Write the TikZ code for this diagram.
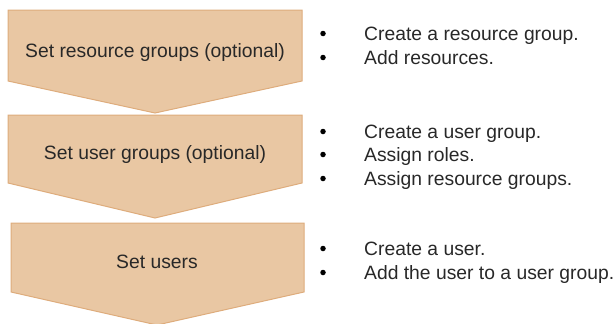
\documentclass[tikz,border=0pt]{standalone}
\usepackage{fontspec}
\setmainfont{Liberation Sans}
\definecolor{chevfill}{RGB}{233,199,163}
\definecolor{chevline}{RGB}{222,172,124}
\definecolor{txt}{RGB}{40,40,40}
\begin{document}
\begin{tikzpicture}[x=1pt,y=-1pt,
  chev/.style={fill=chevfill,draw=chevline,line width=1pt,line join=miter},
  lbl/.style={text=txt,font=\fontsize{19.3}{24}\selectfont,inner sep=0pt},
  item/.style={text=txt,font=\fontsize{19.3}{24}\selectfont,inner sep=0pt,anchor=base west},
  dot/.style={circle,fill=black,inner sep=0pt,minimum size=5.5pt}]
\useasboundingbox (0,0) rectangle (616,324);
% chevrons
\draw[chev] (8,10) -- (302,10) -- (302,81) -- (155,113) -- (8,81) -- cycle;
\draw[chev] (8,115) -- (302,115) -- (302,183) -- (155,218) -- (8,183) -- cycle;
\draw[chev] (11,223) -- (304,223) -- (304,292) -- (157,325) -- (11,292) -- cycle;
\node[lbl] (s1) at (155,53) {Set resource groups (optional)};
\node[lbl] (s2) at (155,155) {Set user groups (optional)};
\node[lbl] (s3) at (157,262) {Set users};
% bullets
\foreach \n/\y/\t in {a/40/{Create a resource group.},b/64/{Add resources.},
  c/138/{Create a user group.},d/161/{Assign roles.},e/185/{Assign resource groups.},
  f/255/{Create a user.},g/279/{Add the user to a user group.}}{
  \node[item] (t\n) at (364,\y) {\t};
  \node[dot] (d\n) at (323,\y-6.5) {};
}
\end{tikzpicture}
\end{document}
